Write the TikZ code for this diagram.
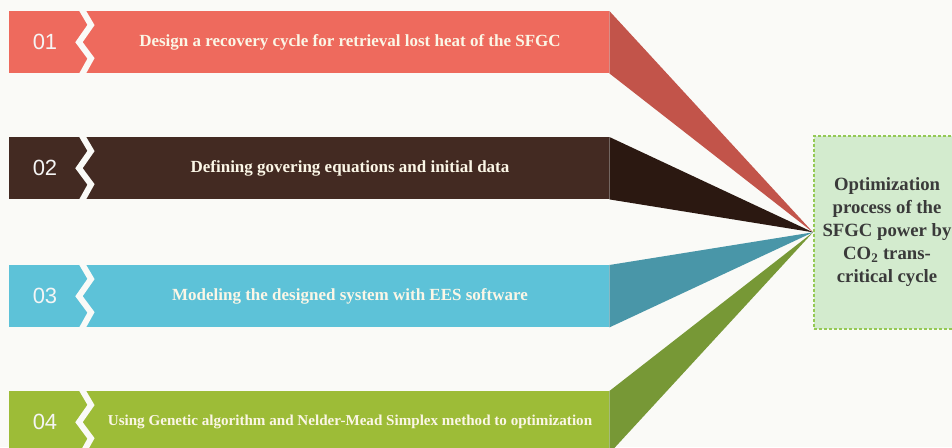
\documentclass[tikz,border=0pt]{standalone}
\usepackage{fontspec}
\setmainfont{Liberation Serif}
\newfontfamily\numfont{Liberation Sans}
\usepackage{xcolor}
\usetikzlibrary{calc,positioning}
\definecolor{paper}{HTML}{FAFAF7}
\definecolor{redbar}{HTML}{EE6A5D}
\definecolor{redside}{HTML}{C2544A}
\definecolor{brownbar}{HTML}{432A22}
\definecolor{brownside}{HTML}{2B1811}
\definecolor{cyanbar}{HTML}{5DC2D8}
\definecolor{cyanside}{HTML}{4996A8}
\definecolor{greenbar}{HTML}{9DBC37}
\definecolor{greenside}{HTML}{779836}
\definecolor{goalfill}{HTML}{D3EBCE}
\definecolor{goalline}{HTML}{94C955}
\definecolor{goaltext}{HTML}{3A3A3A}
\definecolor{cream}{HTML}{FBF6E6}
\tikzset{
  bar/.style={fill=#1, minimum width=600pt, minimum height=62pt, inner sep=0pt, anchor=north west},
  num/.style={text=white!92!gray, font=\numfont\fontsize{22}{24}\selectfont},
  lab/.style={text=cream, font=\bfseries\fontsize{#1}{19}\selectfont},
  zig/.style={draw=paper, line width=6pt, line join=miter},
  goalbox/.style={fill=goalfill, draw=goalline, dash pattern=on 3pt off 2pt, line width=1.6pt,
    minimum width=152pt, minimum height=193pt, anchor=north west, inner sep=0pt},
  goallab/.style={text=goaltext, font=\bfseries\fontsize{18.7}{23}\selectfont, align=center},
}

\begin{document}
\begin{tikzpicture}[x=1pt,y=-1pt]
  \fill[paper] (0,0) rectangle (952,447);
  \useasboundingbox (0,0) rectangle (952,447);
  \clip (0,0) rectangle (952,447);

  % target box on the right
  \node[goalbox] (goal) at (813,135) {};
  \node[goallab] (goaltxt) at (887,232) {Optimization\\process of the\\SFGC power by\\CO\textsubscript{2} trans-\\critical cycle};

  % the four steps
  \foreach \n/\y/\cb/\cs/\fs/\t in {
      01/11/redbar/redside/17/Design a recovery cycle for retrieval lost heat of the SFGC,
      02/137/brownbar/brownside/17/Defining govering equations and initial data,
      03/265/cyanbar/cyanside/17/Modeling the designed system with EES software,
      04/391/greenbar/greenside/15.1/Using Genetic algorithm and Nelder-Mead Simplex method to optimization}{
    \node[bar=\cb] (bar\n) at (9,\y) {};
    \fill[\cs] (bar\n.north east) -- (goal.west) -- (bar\n.south east) -- cycle;
    \node[num] (num\n) at ($(bar\n.west)+(36,0)$) {\n};
    \node[lab=\fs] (lab\n) at ($(bar\n.west)+(341,0)$) {\t};
    % zigzag cut
    \draw[zig] ($(bar\n.north west)+(72,-3)$) -- ($(bar\n.north west)+(82,14)$)
      -- ($(bar\n.west)+(70,0)$) -- ($(bar\n.south west)+(82,-15)$)
      -- ($(bar\n.south west)+(72,3)$);
  }
\end{tikzpicture}
\end{document}
